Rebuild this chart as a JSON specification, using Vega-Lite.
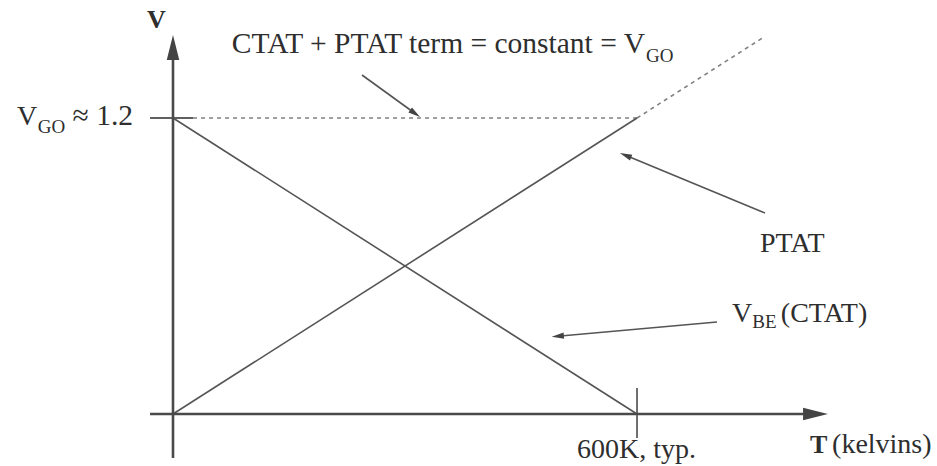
{
  "$schema": "https://vega.github.io/schema/vega-lite/v6.json",
  "width": 937,
  "height": 466,
  "padding": 0,
  "autosize": {"type": "fit", "contains": "padding"},
  "background": "#ffffff",
  "config": {"view": {"stroke": null}},
  "datasets": {
    "segs": [
      {"part": "axis", "t": -29.7, "v": 0, "t2": 832, "v2": 0},
      {"part": "axis", "t": 0, "v": -0.178, "t2": 0, "v2": 1.49},
      {"part": "tick", "t": -29.7, "v": 1.2, "t2": 25.9, "v2": 1.2},
      {"part": "tick", "t": 600, "v": -0.097, "t2": 600, "v2": 0.105},
      {"part": "curve", "t": 0, "v": 1.2, "t2": 600, "v2": 0},
      {"part": "curve", "t": 0, "v": 0, "t2": 600, "v2": 1.2},
      {"part": "dash", "t": 600, "v": 1.2, "t2": 765.5, "v2": 1.531},
      {"part": "dash", "t": 25.9, "v": 1.2, "t2": 600, "v2": 1.2},
      {"part": "pointer", "t": 244.4, "v": 1.3743, "t2": 313.1, "v2": 1.2183},
      {"part": "pointer", "t": 765.5, "v": 0.8149, "t2": 585.1, "v2": 1.0488},
      {"part": "pointer", "t": 703.4, "v": 0.373, "t2": 497.5, "v2": 0.3154}
    ],
    "heads": [
      {"part": "axis", "t": 830.8, "v": 0, "heading": 90},
      {"part": "axis", "t": 0, "v": 1.486, "heading": 0},
      {"part": "pointer", "t": 313.1, "v": 1.2183, "heading": 125.9},
      {"part": "pointer", "t": 585.1, "v": 1.0488, "heading": 292.5},
      {"part": "pointer", "t": 497.5, "v": 0.3154, "heading": 264.8}
    ],
    "texts": [
      {"role": "mainR", "t": 610.3, "v": 1.4635, "label": "CTAT + PTAT term = constant = V"},
      {"role": "sub", "t": 611.6, "v": 1.427, "label": "GO"},
      {"role": "main", "t": -201.7, "v": 1.1716, "label": "V"},
      {"role": "sub", "t": -175.0, "v": 1.1392, "label": "GO"},
      {"role": "mainR", "t": -51.7, "v": 1.1716, "label": "≈ 1.2"},
      {"role": "main", "t": 759.0, "v": 0.6568, "label": "PTAT"},
      {"role": "main", "t": 722.8, "v": 0.373, "label": "V"},
      {"role": "sub", "t": 749.0, "v": 0.3486, "label": "BE"},
      {"role": "main", "t": 786.0, "v": 0.373, "label": "(CTAT)"},
      {"role": "main", "t": 522.4, "v": -0.1784, "label": "600K, typ."},
      {"role": "bold", "t": 823.7, "v": -0.1581, "label": "T"},
      {"role": "main", "t": 852.2, "v": -0.1581, "label": "(kelvins)"},
      {"role": "bold", "t": -33.6, "v": 1.5649, "label": "V"}
    ]
  },
  "encoding": {
    "x": {"field": "t", "type": "quantitative", "scale": {"domain": [-223.7, 987.9], "nice": false, "zero": false}, "axis": null},
    "y": {"field": "v", "type": "quantitative", "scale": {"domain": [-0.2108, 1.6784], "nice": false, "zero": false}, "axis": null}
  },
  "layer": [
    {
      "data": {"name": "segs"},
      "transform": [{"filter": "datum.part === 'dash'"}],
      "mark": {"type": "rule", "color": "#808080", "strokeWidth": 1.6, "strokeDash": [4, 4]},
      "encoding": {"x2": {"field": "t2"}, "y2": {"field": "v2"}}
    },
    {
      "data": {"name": "segs"},
      "transform": [{"filter": "datum.part === 'curve'"}],
      "mark": {"type": "rule", "color": "#555555", "strokeWidth": 1.6},
      "encoding": {"x2": {"field": "t2"}, "y2": {"field": "v2"}}
    },
    {
      "data": {"name": "segs"},
      "transform": [{"filter": "datum.part === 'pointer'"}],
      "mark": {"type": "rule", "color": "#555555", "strokeWidth": 1.6},
      "encoding": {"x2": {"field": "t2"}, "y2": {"field": "v2"}}
    },
    {
      "data": {"name": "segs"},
      "transform": [{"filter": "datum.part === 'tick'"}],
      "mark": {"type": "rule", "color": "#606060", "strokeWidth": 1.8},
      "encoding": {"x2": {"field": "t2"}, "y2": {"field": "v2"}}
    },
    {
      "data": {"name": "segs"},
      "transform": [{"filter": "datum.part === 'axis'"}],
      "mark": {"type": "rule", "color": "#4a4a4a", "strokeWidth": 2.6},
      "encoding": {"x2": {"field": "t2"}, "y2": {"field": "v2"}}
    },
    {
      "data": {"name": "heads"},
      "transform": [{"filter": "datum.part === 'axis'"}],
      "mark": {"type": "point", "shape": "M0,-1L0.5,1L-0.5,1Z", "filled": true, "color": "#444444", "opacity": 1, "size": 620, "strokeWidth": 0},
      "encoding": {"angle": {"field": "heading", "type": "quantitative", "scale": null}}
    },
    {
      "data": {"name": "heads"},
      "transform": [{"filter": "datum.part === 'pointer'"}],
      "mark": {"type": "point", "shape": "M0,-1L0.5,1L-0.5,1Z", "filled": true, "color": "#444444", "opacity": 1, "size": 150, "strokeWidth": 0},
      "encoding": {"angle": {"field": "heading", "type": "quantitative", "scale": null}}
    },
    {
      "data": {"name": "texts"},
      "transform": [{"filter": "datum.role === 'main'"}],
      "mark": {"type": "text", "align": "left", "baseline": "alphabetic", "font": "Liberation Serif", "fontSize": 28, "color": "#2e2e2e"},
      "encoding": {"text": {"field": "label"}}
    },
    {
      "data": {"name": "texts"},
      "transform": [{"filter": "datum.role === 'mainR'"}],
      "mark": {"type": "text", "align": "right", "baseline": "alphabetic", "font": "Liberation Serif", "fontSize": 29.5, "color": "#2e2e2e"},
      "encoding": {"text": {"field": "label"}}
    },
    {
      "data": {"name": "texts"},
      "transform": [{"filter": "datum.role === 'sub'"}],
      "mark": {"type": "text", "align": "left", "baseline": "alphabetic", "font": "Liberation Serif", "fontSize": 19, "color": "#2e2e2e"},
      "encoding": {"text": {"field": "label"}}
    },
    {
      "data": {"name": "texts"},
      "transform": [{"filter": "datum.role === 'bold'"}],
      "mark": {"type": "text", "align": "left", "baseline": "alphabetic", "font": "Liberation Serif", "fontSize": 26, "fontWeight": "bold", "color": "#2e2e2e"},
      "encoding": {"text": {"field": "label"}}
    }
  ]
}
